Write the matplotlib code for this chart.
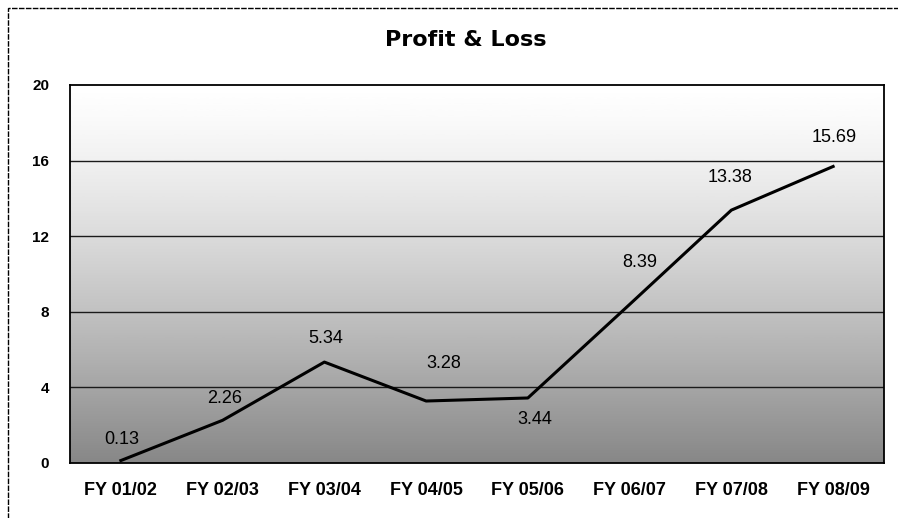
import matplotlib
matplotlib.use("Agg")
import matplotlib.pyplot as plt
import numpy as np
from matplotlib.patches import Rectangle

categories = ["FY 01/02", "FY 02/03", "FY 03/04", "FY 04/05", "FY 05/06", "FY 06/07", "FY 07/08", "FY 08/09"]
values = [0.13, 2.26, 5.34, 3.28, 3.44, 8.39, 13.38, 15.69]
# label offsets in pixels (dx, dy)
label_offsets = [(1, 21), (2, 22), (1, 24), (18, 38), (7, -22), (10, 42), (-1, 33), (1, 29)]
yticks = [0, 4, 8, 12, 16, 20]

W, H = 898, 518
fig = plt.figure(figsize=(W/100, H/100), dpi=100)
fig.patch.set_facecolor("white")
ax = fig.add_axes([70/W, 1-463/H, (884-70)/W, (463-85)/H])

x = np.arange(len(categories))
ax.set_xlim(-0.5, len(categories)-0.5)
ax.set_ylim(0, 20)

# gradient background (light at top, darker at bottom)
t = np.linspace(0, 1, 256)
grad = (1.0 - 0.47 * (1 - t) ** 1.3).reshape(-1, 1)
ax.imshow(grad, extent=[-0.5, len(categories)-0.5, 0, 20], origin="lower",
          cmap="gray", vmin=0, vmax=1, aspect="auto", zorder=0, interpolation="bicubic")

for tk in yticks[1:-1]:
    ax.axhline(tk, color="#1a1a1a", lw=1.0, zorder=1)

ax.plot(x, values, color="black", lw=2.2, zorder=3, solid_joinstyle="round")

for xi, v, off in zip(x, values, label_offsets):
    ax.annotate(f"{v:.2f}", (xi, v), xytext=off, textcoords="offset pixels",
                ha="center", va="center", fontsize=13, family="Liberation Sans", zorder=4)

ax.set_xticks(x)
ax.set_xticklabels(categories, fontsize=13, fontweight="bold", family="Liberation Sans")
ax.set_yticks(yticks)
ax.set_yticklabels([str(tk) for tk in yticks], fontsize=11, fontweight="bold", family="Liberation Sans")
ax.tick_params(length=0)
ax.tick_params(axis="x", pad=14)
ax.tick_params(axis="y", pad=15)
for s in ax.spines.values():
    s.set_color("black")
    s.set_linewidth(1.3)

fig.text(466/W, 1-40/H, "Profit & Loss", ha="center", va="center",
         fontsize=16, fontweight="bold", family="DejaVu Sans")

fig.patches.append(Rectangle((8/W, -0.1), 1.2, 1.1-8/H, transform=fig.transFigure,
                             fill=False, lw=1.0, ls=(0, (4, 1)), edgecolor="black"))

fig.savefig("out.png", dpi=100)
